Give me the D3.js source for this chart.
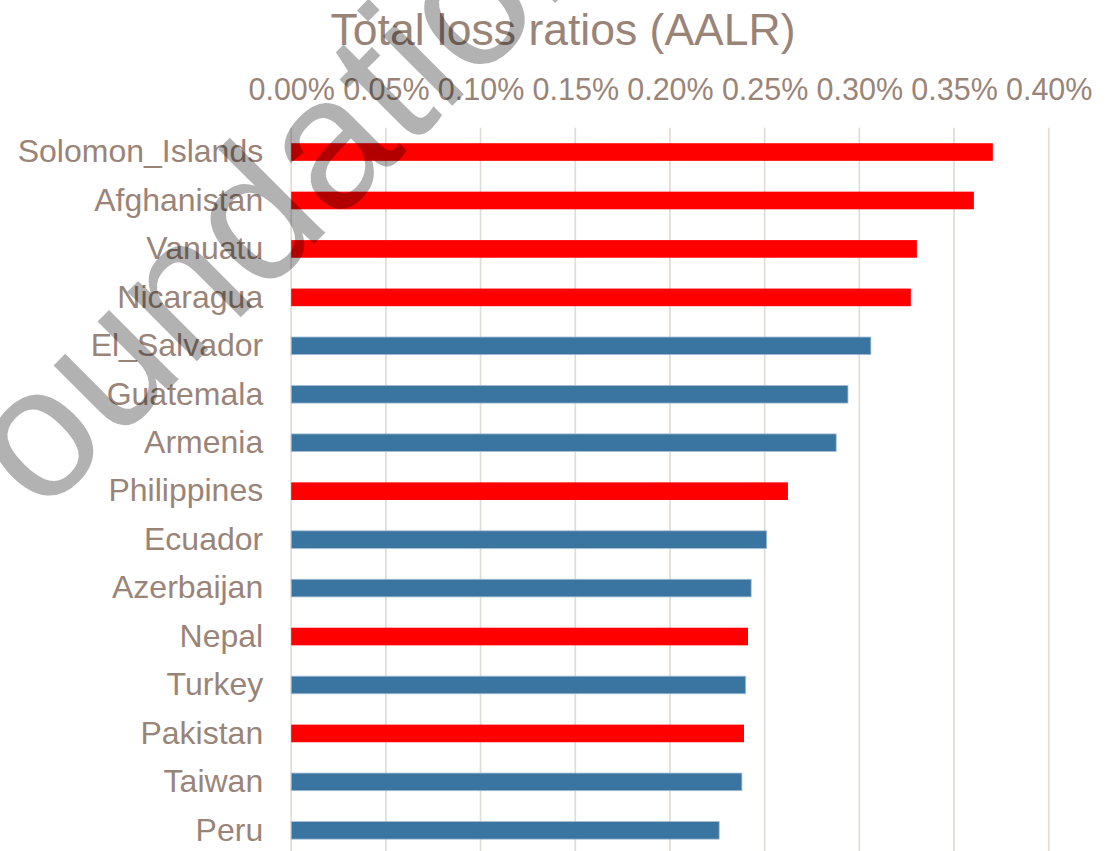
<!DOCTYPE html>
<html lang="en">
  <head>
    <meta charset="utf-8" />
    <title>Total loss ratios (AALR)</title>
    <script src="https://d3js.org/d3.v7.min.js"></script>
    <style>
      body { margin: 0; background: #fff; }
      svg text { font-family: "Liberation Sans", Arial, sans-serif; fill: #9a8478; }
    </style>
  </head>
  <body>
    <svg id="chart" width="1115" height="851"></svg>

    <script>
      // data, top to bottom, values in %
      const countries = ["Solomon_Islands", "Afghanistan", "Vanuatu", "Nicaragua", "El_Salvador",
        "Guatemala", "Armenia", "Philippines", "Ecuador", "Azerbaijan", "Nepal", "Turkey",
        "Pakistan", "Taiwan", "Peru"];
      const aalr = [0.3705, 0.3605, 0.3304, 0.3272, 0.3061, 0.2940, 0.2878, 0.2623, 0.2511,
        0.2429, 0.2412, 0.2400, 0.2391, 0.2380, 0.2260];
      // highlighted countries are drawn in red
      const highlighted = [true, true, true, true, false, false, false, true, false, false,
        true, false, true, false, false];
      const xTicks = [0, 0.05, 0.10, 0.15, 0.20, 0.25, 0.30, 0.35, 0.40];

      const svg = d3.select("#chart");

      const plotLeft = 291.2, plotRight = 1048.7, plotTop = 127.8, step = 48.45;
      const plotBottom = plotTop + step * countries.length;

      const x = d3.scaleLinear().domain([0, 0.4]).range([plotLeft, plotRight]);
      const y = d3.scaleBand()
        .domain(countries)
        .range([plotTop, plotBottom])
        .paddingInner(0.636)
        .paddingOuter(0.318);

      // gridlines
      svg.append("g")
        .selectAll("line")
        .data(xTicks)
        .join("line")
        .attr("x1", d => x(d)).attr("x2", d => x(d))
        .attr("y1", plotTop).attr("y2", 860)
        .attr("stroke", "#e2dbd7")
        .attr("stroke-width", 1.7);

      // top axis labels
      const xAxis = svg.append("g")
        .attr("transform", `translate(0,${plotTop})`)
        .call(d3.axisTop(x).tickValues(xTicks).tickSize(0).tickPadding(28)
          .tickFormat(d => d3.format(".2f")(d) + "%"));
      xAxis.select(".domain").remove();
      xAxis.selectAll("text")
        .style("font-size", "30.5px");

      // category labels
      const yAxis = svg.append("g")
        .attr("transform", `translate(${plotLeft},0)`)
        .call(d3.axisLeft(y).tickSize(0).tickPadding(28));
      yAxis.select(".domain").remove();
      yAxis.selectAll("text")
        .style("font-size", "32px");
      svg.selectAll(".tick text").attr("font-family", null).attr("fill", null);

      // bars
      svg.append("g")
        .selectAll("rect")
        .data(countries)
        .join("rect")
        .attr("x", x(0))
        .attr("y", d => y(d))
        .attr("width", (d, i) => x(aalr[i]) - x(0))
        .attr("height", y.bandwidth())
        .attr("fill", (d, i) => highlighted[i] ? "#ff0000" : "#3a75a2")
        .attr("stroke", (d, i) => highlighted[i] ? "none" : "#a7bfd3")
        .attr("stroke-width", 0.8);

      // title
      svg.append("text")
        .attr("x", 563)
        .attr("y", 45)
        .attr("text-anchor", "middle")
        .style("font-size", "44.5px")
        .text("Total loss ratios (AALR)");

      // watermark over everything
      svg.append("text")
        .attr("transform", "translate(-39,597) rotate(-45)")
        .style("font-size", "186px")
        .style("fill", "#000")
        .style("fill-opacity", 0.3)
        .text("Foundation");
    </script>
  </body>
</html>
